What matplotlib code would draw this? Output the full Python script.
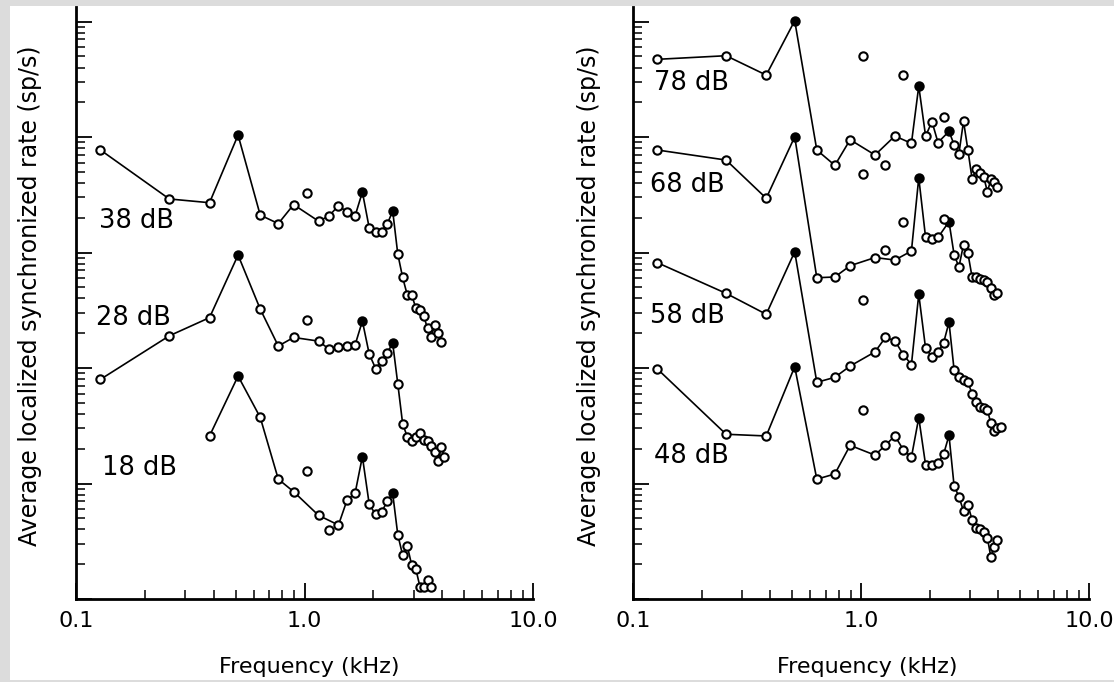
import numpy as np
import matplotlib
matplotlib.use('Agg')
import matplotlib.pyplot as plt
from matplotlib.patches import Rectangle
from matplotlib.ticker import LogLocator, NullFormatter, FixedLocator

# Fondamentale de la voyelle (kHz) et numeros d'harmoniques des formants (points pleins)
F0 = 0.128
formants = [4, 14, 19]

# ---- panneau gauche ----
h_38 = [1, 2, 3, 4, 5, 6, 7, 9, 10, 11, 12, 13, 14, 15, 16, 17, 18, 19, 20,
        21, 22, 23, 24, 25, 26, 27, 28, 29, 30, 31]
r_38 = [77.2, 29.1, 27.0, 104.0, 21.1, 17.8, 26.0, 18.7, 20.7, 25.5, 22.4, 20.7,
        33.4, 16.3, 15.2, 15.2, 17.7, 22.9, 9.7, 6.1, 4.3, 4.3, 3.3, 3.2, 2.8,
        2.2, 1.86, 2.36, 2.0, 1.68]
h_38_off = [8]
r_38_off = [32.7]

h_28 = [1, 2, 3, 4, 5, 6, 7, 9, 10, 11, 12, 13, 14, 15, 16, 17, 18, 19, 20,
        21, 22, 23, 24, 25, 26, 27, 28, 29, 30, 31, 32]
r_28 = [7.98, 19.0, 27.3, 95.1, 32.4, 15.5, 18.4, 17.1, 14.6, 15.2, 15.4, 15.8,
        25.5, 13.2, 9.9, 11.6, 13.6, 16.4, 7.3, 3.3, 2.54, 2.35, 2.51, 2.75,
        2.38, 2.33, 2.11, 1.87, 1.57, 2.07, 1.70]
h_28_off = [8]
r_28_off = [25.8]

h_18 = [3, 4, 5, 6, 7, 9, 11, 12, 13, 14, 15, 16, 17, 18, 19, 20, 21, 22, 23,
        24, 25, 26, 27, 28]
r_18 = [25.8, 85.2, 37.4, 10.9, 8.5, 5.3, 4.37, 7.2, 8.2, 17.1, 6.6, 5.4, 5.7,
        7.0, 8.2, 3.6, 2.4, 2.9, 1.97, 1.81, 1.28, 1.28, 1.46, 1.28]
h_18_off = [8, 10]
r_18_off = [12.9, 3.96]

# ---- panneau droit ----
h_78 = [1, 2, 3, 4, 5, 6, 7, 9, 11, 13, 14, 15, 16, 17, 19, 20, 21, 22, 23,
        24, 25, 26, 27, 28, 29, 30, 31]
r_78 = [47.1, 50.6, 34.4, 101.6, 7.72, 5.69, 9.48, 6.99, 10.2, 8.82, 27.6, 10.2,
        13.6, 8.96, 11.2, 8.61, 7.17, 13.7, 7.72, 4.31, 5.26, 4.91, 4.48, 3.36,
        4.30, 4.10, 3.71]
h_78_off = [8, 10, 12, 18]
r_78_off = [50.6, 5.67, 34.4, 15.0]

h_68 = [1, 2, 3, 4, 5, 6, 7, 9, 11, 13, 14, 15, 16, 17, 19, 20, 21, 22, 23,
        24, 25, 26, 27, 28, 29, 30, 31]
r_68 = [77.2, 63.2, 29.5, 100.6, 6.05, 6.14, 7.69, 9.05, 8.61, 10.3, 44.4, 13.5,
        13.0, 13.5, 18.5, 9.61, 7.49, 11.7, 9.84, 6.10, 6.10, 5.86, 5.78, 5.59,
        4.90, 4.29, 4.43]
h_68_off = [8, 10, 12, 18]
r_68_off = [47.8, 10.5, 18.4, 19.5]

h_58 = [1, 2, 3, 4, 5, 6, 7, 9, 10, 11, 12, 13, 14, 15, 16, 17, 18, 19, 20,
        21, 22, 23, 24, 25, 26, 27, 28, 29, 30, 31, 32]
r_58 = [81.6, 44.3, 29.2, 101.6, 7.52, 8.31, 10.4, 13.8, 18.4, 17.2, 13.0, 10.7,
        43.5, 14.8, 12.5, 13.7, 16.6, 24.9, 9.67, 8.41, 7.80, 7.52, 5.99, 5.11,
        4.57, 4.48, 4.33, 3.32, 2.86, 3.01, 3.10]
h_58_off = [8]
r_58_off = [38.8]

h_48 = [1, 2, 3, 4, 5, 6, 7, 9, 10, 11, 12, 13, 14, 15, 16, 17, 18, 19, 20,
        21, 22, 23, 24, 25, 26, 27, 28, 29, 30, 31]
r_48 = [98.0, 26.7, 25.8, 102.6, 10.9, 12.1, 21.4, 17.6, 21.5, 25.8, 19.5, 16.9,
        37.1, 14.5, 14.5, 15.0, 18.0, 26.1, 9.57, 7.69, 5.78, 6.51, 4.83, 4.09,
        4.01, 3.82, 3.37, 2.31, 2.82, 3.24]
h_48_off = [8]
r_48_off = [43.3]

# niveaux (dB SPL), courbes decalees d'une decade chacune
left_curves = [('38 dB', h_38, r_38, h_38_off, r_38_off, 2),
               ('28 dB', h_28, r_28, h_28_off, r_28_off, 1),
               ('18 dB', h_18, r_18, h_18_off, r_18_off, 0)]
right_curves = [('78 dB', h_78, r_78, h_78_off, r_78_off, 3),
                ('68 dB', h_68, r_68, h_68_off, r_68_off, 2),
                ('58 dB', h_58, r_58, h_58_off, r_58_off, 1),
                ('48 dB', h_48, r_48, h_48_off, r_48_off, 0)]

# positions des etiquettes (fraction des axes)
left_label_pos = [(0.050, 0.627), (0.043, 0.463), (0.056, 0.2095)]
right_label_pos = [(0.045, 0.860), (0.037, 0.688), (0.037, 0.4657), (0.045, 0.2292)]

W, H = 1114, 682
fig = plt.figure(figsize=(W / 100, H / 100), dpi=100)
fig.patch.set_facecolor('#dcdcdc')
fig.add_artist(Rectangle((10 / W, 2 / H), (W - 10) / W, (H - 8) / H,
                         transform=fig.transFigure, facecolor='white',
                         edgecolor='none', zorder=-5))

font = 'DejaVu Sans'


def draw_panel(ax, curves, label_pos):
    for (name, h, r, h_off, r_off, dec), (lx, ly) in zip(curves, label_pos):
        k = 10.0 ** dec
        f = np.array(h) * F0
        y = np.array(r) * k
        ax.plot(f, y, color='black', lw=1.2, zorder=2)
        filled = np.isin(h, formants)
        ax.plot(f[~filled], y[~filled], 'o', ms=6, mfc='white', mec='black',
                mew=1.5, zorder=3)
        ax.plot(f[filled], y[filled], 'o', ms=6, mfc='black', mec='black',
                mew=1.5, zorder=3)
        ax.plot(np.array(h_off) * F0, np.array(r_off) * k, 'o', ms=6,
                mfc='white', mec='black', mew=1.5, zorder=3)
        ax.text(lx, ly, name, transform=ax.transAxes, ha='left',
                va='baseline', fontsize=18.5, family=font)

    ax.set_xscale('log')
    ax.set_yscale('log')
    ax.set_xlim(0.1, 10.0)
    ax.set_ylim(1, 10 ** 5.126)
    ax.set_facecolor('none')
    for s in ['top', 'right']:
        ax.spines[s].set_visible(False)
    for s in ['left', 'bottom']:
        ax.spines[s].set_linewidth(2.0)

    ax.xaxis.set_major_locator(FixedLocator([0.1, 1.0, 10.0]))
    ax.xaxis.set_minor_locator(LogLocator(base=10, subs=np.arange(2, 10)))
    ax.set_xticklabels(['0.1', '1.0', '10.0'], fontsize=16, family=font)
    ax.xaxis.set_minor_formatter(NullFormatter())
    ax.yaxis.set_major_locator(LogLocator(base=10, numticks=10))
    ax.yaxis.set_minor_locator(LogLocator(base=10, subs=np.arange(2, 10), numticks=10))
    ax.yaxis.set_major_formatter(NullFormatter())
    ax.yaxis.set_minor_formatter(NullFormatter())
    ax.tick_params(which='major', direction='in', length=11.5, width=1.3, pad=8.5)
    ax.tick_params(which='minor', direction='in', length=6.5, width=1.1)


ax1 = fig.add_axes([76 / W, 1 - 599 / H, 457 / W, 592 / H])
draw_panel(ax1, left_curves, left_label_pos)
ax2 = fig.add_axes([633 / W, 1 - 599 / H, 456 / W, 592 / H])
draw_panel(ax2, right_curves, right_label_pos)

ylab = 'Average localized synchronized rate (sp/s)'
fig.text(30 / W, 1 - 295.5 / H, ylab, rotation=90, ha='center', va='center',
         fontsize=17, family=font)
fig.text(589 / W, 1 - 295.5 / H, ylab, rotation=90, ha='center', va='center',
         fontsize=17, family=font)
fig.text(309 / W, 1 - 673 / H, 'Frequency (kHz)', ha='center', va='baseline',
         fontsize=16, family=font)
fig.text(867 / W, 1 - 673 / H, 'Frequency (kHz)', ha='center', va='baseline',
         fontsize=16, family=font)

fig.savefig('out.png', dpi=100)
